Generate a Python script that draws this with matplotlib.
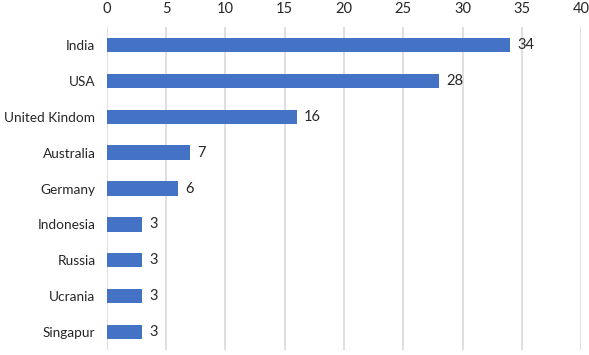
import matplotlib
matplotlib.use("Agg")
import matplotlib.pyplot as plt

# Datos del gráfico
paises = ["India", "USA", "United Kindom", "Australia", "Germany",
          "Indonesia", "Russia", "Ucrania", "Singapur"]
valores = [34, 28, 16, 7, 6, 3, 3, 3, 3]
ticks_x = [0, 5, 10, 15, 20, 25, 30, 35, 40]

plt.rcParams['font.family'] = ['Lato', 'DejaVu Sans']

fig = plt.figure(figsize=(5.89, 3.55), dpi=100)
ax = fig.add_axes([0.181, 0.014, 0.806, 0.91])

y = list(range(len(paises)))
bars = ax.barh(y, valores, height=0.4, color="#4472C4", zorder=3)

for yi, v in zip(y, valores):
    ax.text(v + 0.6, yi, str(v), va="center", ha="left", fontsize=10.5, color="#262626")

ax.set_yticks(y)
ax.set_yticklabels(paises, fontsize=9.8, color="#262626")
ax.set_ylim(len(paises) - 0.5, -0.5)

ax.set_xlim(0, 40)
ax.set_xticks(ticks_x)
ax.xaxis.tick_top()
ax.tick_params(axis="x", labelsize=10.5, colors="#262626", length=0, pad=8)
ax.tick_params(axis="y", length=0, pad=8)
ax.grid(axis="x", color="#D9D9D9", linewidth=1.2, zorder=0)

for s in ax.spines.values():
    s.set_visible(False)

fig.savefig("out.png", dpi=100)
